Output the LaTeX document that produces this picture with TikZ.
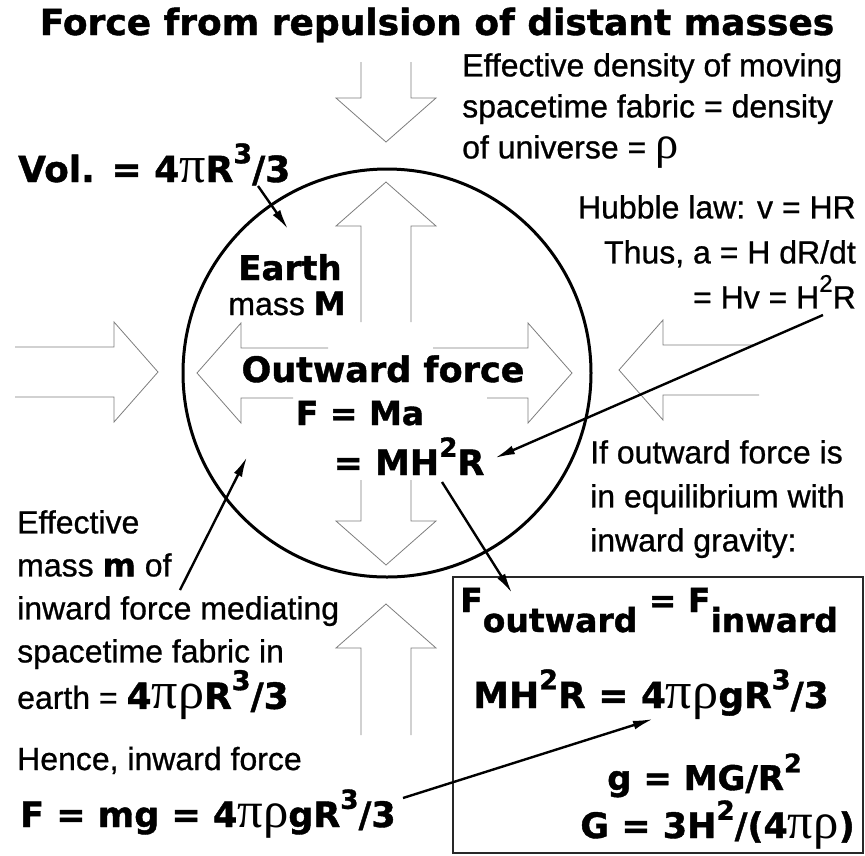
\documentclass[tikz,border=0pt]{standalone}
\usepackage{fontspec}
\setmainfont{Liberation Sans}[UprightFeatures={FakeBold=0.8}]
\newfontfamily\heavyfont{DejaVu Sans}[BoldFeatures={FakeBold=1.2}]
\newfontfamily\greekfont{Liberation Serif}[Scale=1.45]
\usetikzlibrary{arrows.meta}
\definecolor{FaInk}{RGB}{0,0,0}
\definecolor{FaGray}{RGB}{125,125,125}
\definecolor{FaBox}{RGB}{40,40,40}
\newcommand{\grk}[1]{{\greekfont\mdseries #1}}
\makeatletter
\newcommand{\pw}[1]{\raisebox{0.52em}{\fontsize{\fpeval{0.75*\f@size}}{0}\selectfont #1}}
\makeatother
\tikzset{
  fa/body/.style={font=\fontsize{32}{#1}\selectfont, inner sep=0pt},
  fa/body/.default=43,
  fa/heavy/.style={font=\heavyfont\bfseries\fontsize{#1}{42}\selectfont, inner sep=0pt},
  fa/heavy/.default=35,
  fa/hollow/.style={draw=FaGray, line width=0.8pt},
  fa/arrow/.style={-{Latex[length=20pt,width=9pt]}, line width=2.4pt, draw=FaInk},
  fa/earth/.style={circle, draw=FaInk, line width=3pt, minimum size=408pt, inner sep=0pt},
  fa/box/.style={draw=FaBox, line width=1.4pt, minimum width=410pt, minimum height=276pt, inner sep=0pt}
}

\begin{document}
\begin{tikzpicture}[x=1pt,y=-1pt]
  \useasboundingbox (0,0) rectangle (865,855);
  \node[fa/earth] (earth) at (387,373) {};
  \node[fa/box] (balance) at (658,715) {};
  % hollow force arrows: tip x/tip y/angle/shaft lengths
  \foreach \tx/\ty/\ang/\la/\lb in {386/142/-90/80/80, 158/372/0/143/143, 619/370/180/134/140, 386/604/90/131/131,
      386/182/90/140/140, 386/565/-90/85/85, 197/373/180/131/96, 572/373/0/85/139}{
    \draw[fa/hollow, shift={(\tx,\ty)}, rotate=\ang] (-\la,25) -- (-44,25) -- (-44,50) -- (0,0) -- (-44,-50) -- (-44,-25) -- (-\lb,-25);
  }
  \node[fa/heavy=36, anchor=base] (title) at (437,35) {Force from repulsion of distant masses};
  \node[fa/body=41, anchor=north west, align=left] (density) at (462,53) {Effective density of moving\\spacetime fabric = density\\of universe = \grk{ρ}};
  \node[fa/body=45, anchor=north east, align=right] (hubble) at (856,195) {Hubble law: v = HR\\Thus, a = H dR/dt\\= Hv = H\pw{2}R};
  \node[fa/body=44, anchor=north west, align=left] (equil) at (590,440) {If outward force is\\in equilibrium with\\inward gravity:};
  \node[fa/body=43, anchor=north west, align=left] (mediator) at (17,510) {Effective\\mass {\heavyfont\bfseries m} of\\inward force mediating\\spacetime fabric in\\earth = {\heavyfont\bfseries\fontsize{36}{43}\selectfont 4\grk{πρ}R\pw{3}/3}};
  \node[fa/body, anchor=base west] (hence) at (17,770) {Hence, inward force};
  \node[fa/heavy, anchor=base west] (inwardF) at (20,827) {F = mg = 4\grk{πρ}gR\pw{3}/3};
  \node[fa/heavy=36, anchor=base west] (vol) at (18,182) {Vol. = 4\grk{π}R\pw{3}/3};
  \node[fa/heavy=34, anchor=base] (earthlabel) at (290,280) {Earth};
  \node[fa/body, anchor=base] (massM) at (287,315) {mass {\heavyfont\bfseries M}};
  \node[fa/heavy, anchor=base] (outward) at (383,382) {Outward force};
  \node[fa/heavy=33, anchor=base] (fma) at (360,425) {F = Ma};
  \node[fa/heavy, anchor=base] (fmh) at (409,475) {= MH\pw{2}R};
  % inside the box
  \node[fa/heavy=33, anchor=base west] (balanceeq) at (460,612) {F\raisebox{-20pt}{outward} = F\raisebox{-20pt}{inward}};
  \node[fa/heavy=36, anchor=base west] (balancemh) at (473,708) {MH\pw{2}R = 4\grk{πρ}gR\pw{3}/3};
  \node[fa/heavy=34, anchor=base west] (gdef) at (607,790) {g = MG/R\pw{2}};
  \node[fa/heavy=35, anchor=base east] (Gdef) at (855,838) {G = 3H\pw{2}/(4\grk{πρ})};
  % pointers
  \coordinate (volTail) at (258,186);   \coordinate (volTip) at (288,229);
  \coordinate (massTail) at (180,590);  \coordinate (massTip) at (247,457);
  \coordinate (hubTail) at (823,315);   \coordinate (hubTip) at (495,458);
  \coordinate (fmhTail) at (442,482);   \coordinate (boxTip) at (512,593);
  \coordinate (mgTail) at (403,798);    \coordinate (mhTip) at (653,719);
  \draw[fa/arrow] (volTail) -- (volTip);
  \draw[fa/arrow] (massTail) -- (massTip);
  \draw[fa/arrow] (hubTail) -- (hubTip);
  \draw[fa/arrow] (fmhTail) -- (boxTip);
  \draw[fa/arrow] (mgTail) -- (mhTip);
\end{tikzpicture}
\end{document}
